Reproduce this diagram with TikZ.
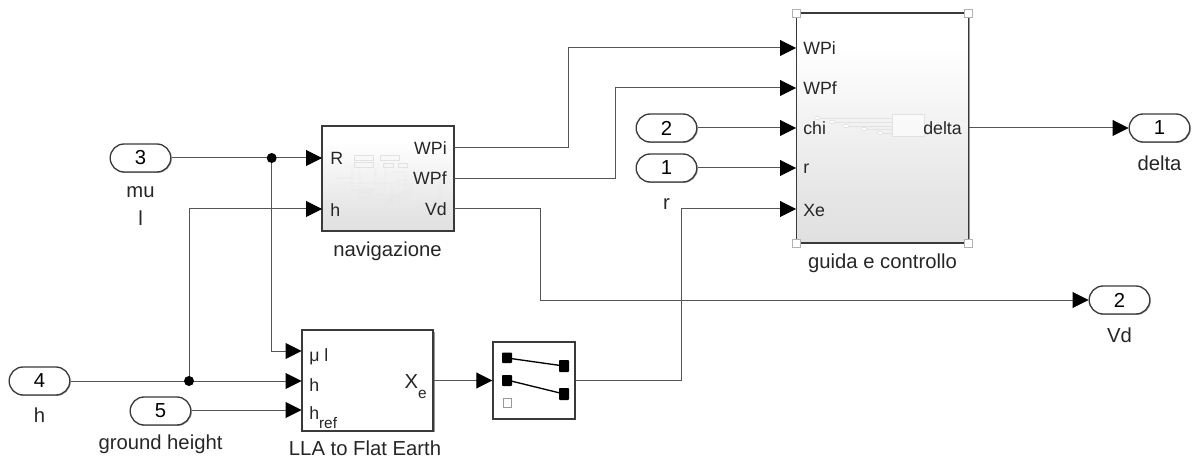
\documentclass[tikz,border=0pt]{standalone}
\usepackage{fontspec}
\setmainfont{Liberation Sans}
\usetikzlibrary{arrows.meta,shadows,shadings}
\definecolor{wirec}{HTML}{555555}
\definecolor{edgec}{HTML}{3A3A3A}
\definecolor{thumb}{HTML}{E2E2E2}
\pgfdeclareverticalshading{blockshade}{100bp}{color(0bp)=(black!17); color(35bp)=(black!10); color(68bp)=(white); color(100bp)=(white)}
\tikzset{
  lbl/.style={font=\fontsize{15.2}{17}\selectfont,text=black!85,inner sep=0pt},
  plbl/.style={font=\fontsize{13.3}{15}\selectfont,text=black!85,inner sep=0pt},
  wire/.style={draw=wirec,line width=0.75pt},
  feed/.style={wire,-{Triangle[length=12pt,width=12pt,color=black]}},
  dotj/.style={circle,fill=black,inner sep=0pt,minimum size=7.5pt},
  portbox/.style={draw=edgec,line width=1pt,fill=white,rounded corners=10.5pt,minimum width=45.5pt,minimum height=21pt,inner sep=0pt,font=\fontsize{15.2}{17}\selectfont,drop shadow={shadow xshift=0.7pt,shadow yshift=-0.7pt,opacity=0.35,fill=black}},
  gradblock/.style={draw=edgec,line width=1.3pt,shading=blockshade,inner sep=0pt,drop shadow={shadow xshift=1pt,shadow yshift=-1pt,opacity=0.4,fill=black}},
  plainblock/.style={draw=edgec,line width=1.1pt,fill=white,inner sep=0pt,drop shadow={shadow xshift=1pt,shadow yshift=-1pt,opacity=0.4,fill=black}},
  handle/.style={draw=black!30,fill=white,line width=0.6pt,minimum size=6pt,inner sep=0pt},
  thumbline/.style={draw=thumb,line width=0.35pt},
  pill/.style={draw=thumb,line width=0.4pt,fill=white,rounded corners=1.1pt},
  swpad/.style={fill=black,rounded corners=0.6pt},
}
\begin{document}
\begin{tikzpicture}[x=0.75pt,y=-0.75pt]
\useasboundingbox (0,0) rectangle (1194,459);
% blocks
\node[gradblock,minimum width=99pt,minimum height=78.75pt] (nav) at (388,178.5) {};
\node[gradblock,minimum width=129pt,minimum height=172.5pt] (guida) at (882.5,128) {};
\node[plainblock,minimum width=98.5pt,minimum height=75.5pt] (lla) at (367.5,380.5) {};
\node[plainblock,minimum width=61.5pt,minimum height=57.75pt] (sel) at (534,380.5) {};
% handles
\node[handle] (h1) at (796.5,13) {};
\node[handle] (h2) at (968.5,13) {};
\node[handle] (h3) at (796.5,243) {};
\node[handle] (h4) at (968.5,243) {};
% ports
\node[portbox] (in3) at (140.5,158) {3};
\node[portbox] (in4) at (39.5,381) {4};
\node[portbox] (in5) at (160.5,411) {5};
\node[portbox] (in2) at (666.5,128) {2};
\node[portbox] (in1) at (666.5,168) {1};
\node[portbox] (out1) at (1159.5,128) {1};
\node[portbox] (out2) at (1119.5,300) {2};
% outer labels
\node[lbl] (t3a) at (140.5,192) {mu};
\node[lbl] (t3b) at (140.5,218) {l};
\node[lbl] (t4) at (39.5,415) {h};
\node[lbl] (t5) at (160.5,444) {ground height};
\node[lbl] (t6) at (666.5,204) {r};
\node[lbl] (t7) at (1159.5,163) {delta};
\node[lbl] (t8) at (1119.5,335) {Vd};
\node[lbl] (t9) at (387.5,251) {navigazione};
\node[lbl] (t10) at (882.5,263) {guida e controllo};
\node[lbl] (t11) at (365,448.5) {LLA to Flat Earth};
% thumbnails
\draw[thumbline] (354,155) rectangle (373,160) (380,155) rectangle (399,160) (354,162) rectangle (373,167) (383,163) rectangle (393,167) (398,163) rectangle (407,167);
\draw[thumbline] (335,178) -- (352,178) (352,166) -- (352,190) -- (375,190) -- (375,172) (360,172) -- (360,200) -- (392,200) (345,183) -- (392,183) -- (392,204) (376,177) -- (376,168) (392,172) -- (405,172) -- (405,192) (375,195) -- (412,195) -- (412,182) (385,160) -- (385,192) (360,192) rectangle (370,197) (398,180) rectangle (407,185) (363,189) rectangle (372,193) (390,197) rectangle (400,201) (403,189) rectangle (412,192) (393,198) rectangle (400,203) (420,200) -- (440,200) -- (440,180) (418,207) -- (425,203);
\draw[thumbline] (817,118) -- (892,118) (832,122) -- (892,122) (846,126) -- (892,126) (864,129) -- (892,129) (880,133) -- (892,133);
\foreach \x/\y in {817/118,832/122,846/126,864/129,880/133}{\draw[pill] (\x-3,\y-1.5) rectangle (\x+3,\y+1.5);}
\draw[thumbline,fill=white,fill opacity=.6] (892.5,114) rectangle (924,136);
% selector content
\fill[swpad] (502,352.5) rectangle (512,363);
\fill[swpad] (502,375) rectangle (512,386);
\fill[swpad] (559,360) rectangle (569,372);
\fill[swpad] (559,388) rectangle (569,400);
\draw[black,line width=1pt] (507,358) -- (564,366) (507,380) -- (564,394);
\draw[black!40,line width=0.6pt,fill=white] (503,398) rectangle (511,407);
% port texts
\node[plbl,anchor=west] (nR) at (330,158) {R};
\node[plbl,anchor=west] (nh) at (330,210) {h};
\node[plbl,anchor=east] (nWPi) at (447,148) {WPi};
\node[plbl,anchor=east] (nWPf) at (447,178) {WPf};
\node[plbl,anchor=east] (nVd) at (447,209) {Vd};
\node[plbl,anchor=west] (gWPi) at (803,48) {WPi};
\node[plbl,anchor=west] (gWPf) at (803,88) {WPf};
\node[plbl,anchor=west] (gchi) at (803,128) {chi};
\node[plbl,anchor=west] (gr) at (803,169) {r};
\node[plbl,anchor=west] (gXe) at (803,210) {Xe};
\node[plbl,anchor=east] (gdelta) at (962,128) {delta};
\node[plbl,anchor=base west] (lmu) at (309,361) {μ l};
\node[plbl,anchor=base west] (lh) at (309,391) {h};
\node[plbl,anchor=base west] (lref) at (309,419) {h\raisebox{-1ex}{\fontsize{11.5}{12}\selectfont ref}};
\node[lbl,anchor=base east] (lX) at (427,388) {X\raisebox{-1ex}{\fontsize{11.5}{12}\selectfont e}};
% named port coordinates
\coordinate (a) at (271.7,158);
\coordinate (b) at (189,381);
\coordinate (nRp) at (322,158);
\coordinate (nhp) at (322,209);
\coordinate (nWPip) at (454,148);
\coordinate (nWPfp) at (454,179);
\coordinate (nVdp) at (454,209);
\coordinate (g1) at (796,48);
\coordinate (g2) at (796,88);
\coordinate (g3) at (796,128);
\coordinate (g4) at (796,168);
\coordinate (g5) at (796,209);
\coordinate (l1) at (301.5,351);
\coordinate (l2) at (301.5,381);
\coordinate (l3) at (301.5,410);
% wires
\draw[feed] (in3.east) -- (nRp);
\draw[feed] (a) |- (l1);
\draw[feed] (in4.east) -- (l2);
\draw[feed] (b) |- (nhp);
\draw[feed] (in5.east |- l3) -- (l3);
\draw[feed] (nWPip) -| (568,48) -- (g1);
\draw[feed] (nWPfp) -| (615,88) -- (g2);
\draw[feed] (nVdp) -| (540,300) -- (out2.west);
\draw[feed] (in2.east) -- (g3);
\draw[feed] (in1.east) -- (g4);
\draw[feed] (sel.east) -| (681,209) -- (g5);
\draw[feed] (guida.east) -- (out1.west);
\draw[feed] (lla.east) -- (sel.west);
\node[dotj] (ja) at (a) {};
\node[dotj] (jb) at (b) {};
\end{tikzpicture}
\end{document}
